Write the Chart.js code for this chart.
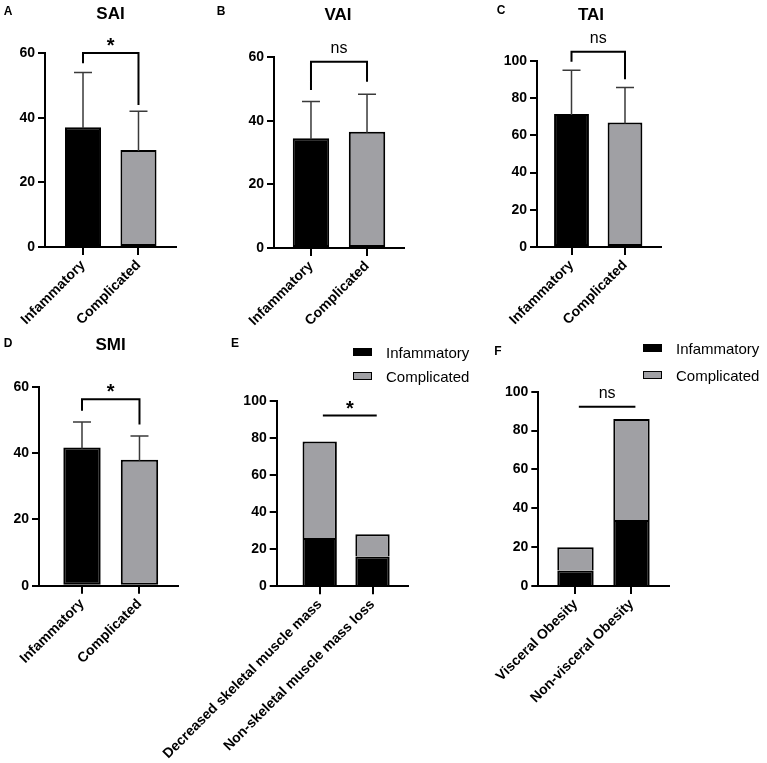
<!DOCTYPE html>
<html><head><meta charset="utf-8">
<script src="https://cdn.jsdelivr.net/npm/chart.js@4"></script>
<style>
html,body{margin:0;padding:0;background:#fff;}
#wrap{position:relative;width:767px;height:763px;overflow:hidden;font-family:"Liberation Sans",Arial,sans-serif;color:#000;}
canvas{position:absolute;}
.t{position:absolute;transform:translate(-50%,-50%);font-weight:bold;white-space:nowrap;line-height:1;z-index:5;}
.letter{font-size:12px;}
.title{font-size:17px;}
.leg{position:absolute;z-index:5;font-size:15px;white-space:nowrap;line-height:1;}
.leg div{position:relative;height:24px;}
.leg i{position:absolute;left:0;top:0;width:17px;height:6px;border:1.5px solid #000;transform:translateY(-50%);}
.leg span{position:absolute;left:33px;top:0;transform:translateY(-50%);}
</style></head><body><div id="wrap">
<div class="t letter" style="left:8px;top:11px">A</div>
<div class="t letter" style="left:221px;top:11px">B</div>
<div class="t letter" style="left:501px;top:10px">C</div>
<div class="t letter" style="left:8px;top:343px">D</div>
<div class="t letter" style="left:235px;top:343px">E</div>
<div class="t letter" style="left:498px;top:351px">F</div>
<div class="t title" style="left:110.5px;top:13px">SAI</div>
<div class="t title" style="left:338px;top:13.5px">VAI</div>
<div class="t title" style="left:591px;top:14px">TAI</div>
<div class="t title" style="left:110.5px;top:344px">SMI</div>
<div class="leg" style="left:353px;top:352px">
  <div><i style="background:#000"></i><span>Infammatory</span></div>
  <div><i style="background:#a0a0a4"></i><span>Complicated</span></div>
</div>
<div class="leg" style="left:643px;top:348px">
  <div style="height:27px"><i style="background:#000"></i><span>Infammatory</span></div>
  <div><i style="background:#a0a0a4"></i><span>Complicated</span></div>
</div>
<canvas id="cA"></canvas><canvas id="cB"></canvas><canvas id="cC"></canvas>
<canvas id="cD"></canvas><canvas id="cE"></canvas><canvas id="cF"></canvas>
</div>
<script>
// ---- data ----
const groupLabels = ['Infammatory', 'Complicated'];
const saiMean = [37, 30];
const saiSD = [17, 12];
const vaiMean = [34.5, 36.5];
const vaiSD = [11.5, 11.8];
const taiMean = [71.5, 67];
const taiSD = [23.5, 18.8];
const smiMean = [41.7, 38];
const smiSD = [7.7, 7.2];
const muscleLabels = ['Decreased skeletal muscle mass', 'Non-skeletal muscle mass loss'];
const muscleInf = [26, 16];
const muscleComp = [52, 12];
const obesityLabels = ['Visceral Obesity', 'Non-visceral Obesity'];
const obesityInf = [8, 34];
const obesityComp = [12, 52];
const seriesNames = ['Infammatory', 'Complicated'];
const yMax60 = 60;
const yMax100 = 100;
const yStep = 20;
// significance annotations: [bracket top, left leg end, right leg end] (value units)
const saiBracket = [60, 56.8, 43.9];
const vaiBracket = [58.5, 49.6, 52.2];
const taiBracket = [105, 99.6, 90.2];
const smiBracket = [56.3, 52.8, 48.7];
// plain lines: [y value, x start, x end] (category units)
const muscleLine = [92, 0.06, 1.08];
const obesityLine = [92.3, 0.06, 1.07];

// ---- style / layout ----
const BLACK = '#000';
const GRAY = '#a0a0a4';
const FONT = '"Liberation Sans", Arial, sans-serif';
Chart.defaults.font.family = FONT;
Chart.defaults.color = '#000';
const YW = 36;

function place(id, canvasBox) {
  const c = document.getElementById(id);
  c.width = canvasBox[2]; c.height = canvasBox[3];
  c.style.left = canvasBox[0] + 'px'; c.style.top = canvasBox[1] + 'px';
  c.style.width = canvasBox[2] + 'px'; c.style.height = canvasBox[3] + 'px';
  return c;
}

function errPlugin(sd) {
  return {
    id: 'err',
    afterDatasetsDraw(chart) {
      const meta = chart.getDatasetMeta(0), ys = chart.scales.y, ctx = chart.ctx;
      const data = chart.data.datasets[0].data;
      ctx.save();
      ctx.strokeStyle = '#3a3a3a'; ctx.lineWidth = 1.5;
      meta.data.forEach((el, i) => {
        const top = ys.getPixelForValue(data[i].y + sd[i]);
        ctx.beginPath();
        ctx.moveTo(el.x, el.y + 1); ctx.lineTo(el.x, top);
        ctx.moveTo(el.x - 9, top); ctx.lineTo(el.x + 9, top);
        ctx.stroke();
      });
      ctx.restore();
    }
  };
}

function sigText(ctx, txt, x, y) {
  ctx.textAlign = 'center'; ctx.textBaseline = 'alphabetic'; ctx.fillStyle = '#000';
  if (txt === '*') { ctx.font = 'bold 20px ' + FONT; ctx.fillText(txt, x, y - 1); }
  else { ctx.font = '16px ' + FONT; ctx.fillText(txt, x, y - 9); }
}

function bracketPlugin(b, txt) {
  return {
    id: 'bracket',
    afterDraw(chart) {
      const xs = chart.scales.x, ys = chart.scales.y, ctx = chart.ctx;
      const x0 = xs.getPixelForValue(0), x1 = xs.getPixelForValue(1);
      const yt = ys.getPixelForValue(b[0]);
      ctx.save();
      ctx.strokeStyle = '#000'; ctx.lineWidth = 2; ctx.lineJoin = 'miter';
      ctx.beginPath();
      ctx.moveTo(x0, ys.getPixelForValue(b[1])); ctx.lineTo(x0, yt);
      ctx.lineTo(x1, yt); ctx.lineTo(x1, ys.getPixelForValue(b[2]));
      ctx.stroke();
      sigText(ctx, txt, (x0 + x1) / 2, yt);
      ctx.restore();
    }
  };
}

function linePlugin(l, txt) {
  return {
    id: 'sigline',
    afterDraw(chart) {
      const xs = chart.scales.x, ys = chart.scales.y, ctx = chart.ctx;
      const y = ys.getPixelForValue(l[0]);
      const xa = xs.getPixelForValue(l[1]), xb = xs.getPixelForValue(l[2]);
      ctx.save();
      ctx.strokeStyle = '#000'; ctx.lineWidth = 2;
      ctx.beginPath(); ctx.moveTo(xa, y); ctx.lineTo(xb, y); ctx.stroke();
      sigText(ctx, txt, (xa + xb) / 2, y);
      ctx.restore();
    }
  };
}

function makeChart(id, canvasBox, area, XH, xr, yMax, labels, datasets, plugins, stacked) {
  const c = place(id, canvasBox);
  const padding = {
    left: area[0] - canvasBox[0] - YW,
    top: area[1] - canvasBox[1],
    right: canvasBox[0] + canvasBox[2] - area[2],
    bottom: canvasBox[1] + canvasBox[3] - area[3] - XH
  };
  return new Chart(c, {
    type: 'bar',
    data: { datasets },
    plugins,
    options: {
      responsive: false, animation: false,
      layout: { padding },
      plugins: { legend: { display: false }, tooltip: { enabled: false }, title: { display: false } },
      scales: {
        x: {
          type: 'linear', min: xr[0], max: xr[1], stacked: !!stacked, offset: false,
          afterBuildTicks: s => { s.ticks = labels.map((_, i) => ({ value: i })); },
          afterFit: s => { s.height = XH; s.paddingLeft = 0; s.paddingRight = 0; },
          grid: { drawOnChartArea: false, color: '#000', lineWidth: 2, tickLength: 8, offset: false },
          border: { display: true, color: '#000', width: 2 },
          ticks: {
            autoSkip: false, maxRotation: 45, minRotation: 45, padding: 2,
            font: { size: 14, weight: 'bold' }, color: '#000',
            callback: v => labels[Math.round(v)]
          }
        },
        y: {
          min: 0, max: yMax, stacked: !!stacked,
          afterFit: s => { s.width = YW; s.paddingTop = 0; s.paddingBottom = 0; },
          grid: { drawOnChartArea: false, color: '#000', lineWidth: 2, tickLength: 7 },
          border: { display: true, color: '#000', width: 2 },
          ticks: { stepSize: yStep, padding: 3, font: { size: 14, weight: 'bold' }, color: '#000' }
        }
      }
    }
  });
}

function meanSet(mean) {
  return [{
    label: 'mean',
    data: mean.map((v, i) => ({ x: i, y: v })),
    backgroundColor: [BLACK, GRAY], borderColor: '#000', borderWidth: 2,
    borderSkipped: false, barPercentage: 0.65, categoryPercentage: 1
  }];
}
function stackSets(inf, comp) {
  return [
    { label: seriesNames[0], data: inf.map((v, i) => ({ x: i, y: v })), backgroundColor: BLACK,
      borderColor: '#000', borderWidth: 2, stack: 's', barPercentage: 0.65, categoryPercentage: 1 },
    { label: seriesNames[1], data: comp.map((v, i) => ({ x: i, y: v })), backgroundColor: GRAY,
      borderColor: '#000', borderWidth: 2, stack: 's', barPercentage: 0.65, categoryPercentage: 1 }
  ];
}

makeChart('cA', [0, 0, 250, 380], [45, 53, 176, 247], 125, [-0.685, 1.676], yMax60, groupLabels,
  meanSet(saiMean), [errPlugin(saiSD), bracketPlugin(saiBracket, '*')]);
makeChart('cB', [200, 0, 260, 380], [274, 57, 404, 248], 125, [-0.66, 1.66], yMax60, groupLabels,
  meanSet(vaiMean), [errPlugin(vaiSD), bracketPlugin(vaiBracket, 'ns')]);
makeChart('cC', [440, 0, 327, 380], [537, 61, 661, 247], 125, [-0.645, 1.673], yMax100, groupLabels,
  meanSet(taiMean), [errPlugin(taiSD), bracketPlugin(taiBracket, 'ns')]);
makeChart('cD', [0, 330, 250, 433], [39, 387, 178, 585.7], 175, [-0.748, 1.67], yMax60, groupLabels,
  meanSet(smiMean), [errPlugin(smiSD), bracketPlugin(smiBracket, '*')]);
makeChart('cE', [140, 330, 300, 433], [276.7, 400.7, 408, 586.3], 175, [-0.814, 1.672], yMax100, muscleLabels,
  stackSets(muscleInf, muscleComp), [linePlugin(muscleLine, '*')], true);
makeChart('cF', [440, 330, 327, 433], [538.3, 391.7, 669, 586], 175, [-0.664, 1.67], yMax100, obesityLabels,
  stackSets(obesityInf, obesityComp), [linePlugin(obesityLine, 'ns')], true);
</script>
</body></html>
